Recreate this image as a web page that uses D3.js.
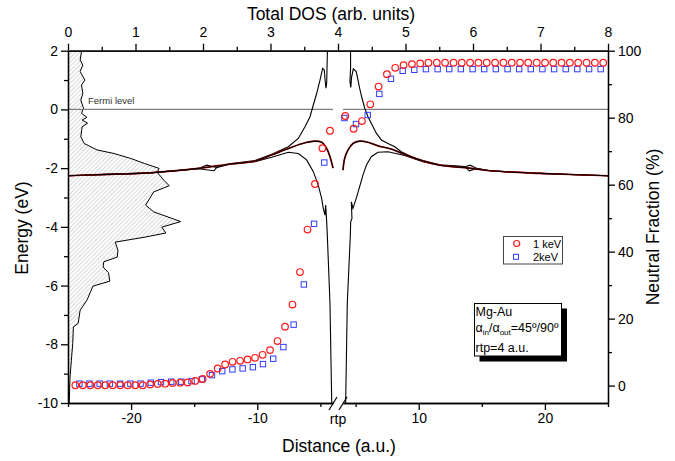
<!DOCTYPE html>
<html><head><meta charset="utf-8">
<script src="https://cdn.jsdelivr.net/npm/d3@7"></script>
<style>
body{margin:0;background:#fff}
svg{display:block}
text{font-family:"Liberation Sans",Arial,Helvetica,sans-serif}
</style>
</head><body>
<svg id="chart" width="675" height="461"></svg>
<script>
// ---------- DATA ----------
// Total DOS (top axis) vs energy (left axis)
const dosEnergy = [2.0,1.97,1.68,1.51,1.29,1.00,0.83,0.55,0.32,0.04,-0.13,-0.27,-0.36,-0.47,-0.59,-0.93,-1.16,-1.38,-1.50,-1.67,-1.84,-2.01,-2.14,-2.41,-2.60,-2.81,-3.26,-3.49,-3.82,-4.01,-4.21,-4.35,-4.52,-4.79,-5.03,-5.19,-5.37,-5.56,-5.85,-6.02,-6.50,-6.84,-7.29,-7.41,-7.97,-8.54,-9.11,-9.91,-10];
const dosValue  = [0.20,0.20,0.18,0.22,0.18,0.25,0.20,0.22,0.19,0.23,0.20,0.28,0.21,0.29,0.21,0.19,0.24,0.43,0.68,0.93,1.13,1.35,1.32,1.42,1.50,1.27,1.15,1.27,1.67,1.39,1.45,1.14,0.70,0.74,0.73,0.53,0.52,0.60,0.62,0.37,0.28,0.18,0.15,0.08,0.07,0.05,0.03,0.02,0.02];

// Energy-level curves: [distance (a.u.), energy (eV)]
const upperLeft = [[-25,-2.26],[-22.5,-2.22],[-18.5,-2.16],[-14.67,-2.02],[-14.01,-1.90],[-13.22,-1.98],[-12.16,-1.85],[-10.18,-1.74],[-8.86,-1.53],[-7.54,-1.27],[-6.75,-0.99],[-6.22,-0.59],[-5.82,-0.25],[-5.56,0.15],[-5.29,0.55],[-5.03,1.00],[-4.82,1.40],[-4.69,1.34],[-4.64,1.06],[-4.56,0.72],[-4.50,0.89],[-4.46,1.68],[-4.44,2.0]];
const lowerLeft = [[-25,-2.26],[-22.5,-2.22],[-18.5,-2.16],[-14.67,-2.02],[-13.43,-2.09],[-13.22,-1.98],[-12.16,-1.87],[-10.18,-1.78],[-8.86,-1.63],[-7.54,-1.46],[-6.75,-1.50],[-6.09,-1.72],[-5.56,-2.12],[-5.17,-2.58],[-4.90,-3.03],[-4.77,-3.37],[-4.64,-3.60],[-4.58,-3.26],[-4.50,-3.83],[-4.45,-4.29],[-4.24,-6.6],[-4.10,-10]];
const midLeft   = [[-25,-2.26],[-22.5,-2.22],[-18.5,-2.16],[-14.5,-2.0],[-12.16,-1.86],[-10.18,-1.76],[-8.86,-1.55],[-7.54,-1.33],[-6.22,-1.135],[-5.43,-1.08],[-4.90,-1.12],[-4.50,-1.33],[-4.24,-1.61],[-4.06,-1.89],[-4.0,-2.0]];
const upperRight = [[4.6,2.0],[4.6,1.4],[4.55,0.95],[4.62,0.75],[4.68,1.1],[4.82,1.38],[5.05,1.29],[5.19,1.00],[5.32,0.72],[5.51,0.38],[5.72,0.04],[5.98,-0.25],[6.24,-0.47],[6.64,-0.81],[7.04,-1.04],[7.57,-1.16],[8.10,-1.27],[8.62,-1.44],[9.42,-1.61],[10.34,-1.74],[11.69,-1.89],[13.67,-1.95],[14.07,-1.90],[14.6,-2.01],[15.65,-2.09],[19.61,-2.18],[25,-2.26]];
const lowerRight = [[4.21,-10],[4.34,-6.6],[4.58,-4.3],[4.61,-3.83],[4.71,-3.71],[4.66,-3.15],[4.79,-3.37],[5.05,-3.03],[5.32,-2.63],[5.58,-2.24],[5.85,-1.90],[6.24,-1.61],[6.77,-1.46],[7.57,-1.44],[8.88,-1.57],[10.34,-1.78],[11.69,-1.91],[13.67,-1.95],[14.01,-2.09],[14.6,-2.01],[15.65,-2.09],[19.61,-2.18],[25,-2.26]];
const midRight  = [[4.0,-2.07],[4.13,-1.67],[4.4,-1.38],[4.79,-1.16],[5.32,-1.08],[5.98,-1.12],[6.77,-1.24],[7.82,-1.35],[8.88,-1.53],[10.34,-1.76],[11.69,-1.90],[14.0,-2.0],[15.65,-2.09],[19.61,-2.18],[25,-2.26]];

// Neutral fraction (%) vs distance
const keV1Dist = [-24.42,-23.83,-23.23,-22.64,-22.05,-21.45,-20.86,-20.27,-19.67,-19.08,-18.49,-17.89,-17.30,-16.71,-16.11,-15.52,-14.92,-14.33,-13.74,-13.14,-12.55,-11.96,-11.36,-10.77,-10.18,-9.58,-8.99,-8.40,-7.80,-7.21,-6.62,-6.02,-5.43,-4.84,-4.24,
  4.18,4.84,5.50,6.16,6.82,7.48,8.14,8.80,9.46,10.12,10.77,11.43,12.09,12.76,13.41,14.07,14.73,15.39,16.05,16.71,17.37,18.03,18.68,19.35,20.01,20.66,21.32,21.98,22.64,23.30,23.96,24.62];
const keV1Frac = [0.1,0.1,0.1,0.1,0.1,0.1,0.1,0.1,0.1,0.1,0.36,0.5,0.57,0.8,0.86,0.95,1.4,2.0,3.5,5.1,6.3,7.1,7.4,7.8,8.3,9.2,10.6,13.3,17.6,24.2,33.9,46.6,60.2,70.9,76.1,
  80.5,76.7,79.0,84.0,89.3,93.0,94.9,95.7,96.0,96.2,96.4,96.4,96.4,96.4,96.4,96.4,96.4,96.4,96.4,96.4,96.4,96.4,96.4,96.4,96.4,96.4,96.4,96.4,96.4,96.4,96.4,96.4];
const keV2Dist = [-24.10,-23.30,-22.49,-21.68,-20.87,-20.06,-19.25,-18.44,-17.63,-16.82,-16.02,-15.21,-14.40,-13.59,-12.78,-11.97,-11.16,-10.35,-9.55,-8.74,-7.93,-7.12,-6.31,-5.50,-4.69,
  4.11,5.03,5.96,6.88,7.80,8.73,9.65,10.57,11.50,12.42,13.34,14.27,15.19,16.11,17.04,17.96,18.88,19.80,20.73,21.65,22.57,23.50,24.42];
const keV2Frac = [0.57,0.57,0.57,0.57,0.57,0.57,0.57,0.86,1.04,1.16,1.16,1.34,1.85,3.13,4.32,4.83,5.13,5.51,6.41,8.02,11.5,18.2,30.2,48.3,66.6,
  79.9,78.1,80.8,87.1,91.6,94.0,94.3,94.5,94.5,94.5,94.5,94.5,94.5,94.5,94.5,94.5,94.5,94.5,94.5,94.5,94.5,94.5,94.5];

// Ticks / labels
const energyTicks = [-10,-8,-6,-4,-2,0,2];
const energyMinor = [-9,-7,-5,-3,-1,1];
const dosTicks = [0,1,2,3,4,5,6,7,8];
const dosMinor = [0.5,1.5,2.5,3.5,4.5,5.5,6.5,7.5];
const fracTicks = [0,20,40,60,80,100];
const fracMinor = [10,30,50,70,90];
const distTicksLeft = [-20,-10], distMinorLeft = [-25,-15,-5];
const distTicksRight = [10,20], distMinorRight = [5,15,25];
const legendLabels = ["1 keV","2keV"];

// ---------- LAYOUT ----------
const L = 68, R = 608, T = 50.7, B = 403;
const svg = d3.select("#chart");
const FONT = '"Liberation Sans",Arial,Helvetica,sans-serif';

const yE = d3.scaleLinear().domain([-10,2]).range([B,T]);
const yP = d3.scaleLinear().domain([-5.2,100]).range([B,T]);
const xDOS = d3.scaleLinear().domain([0,8]).range([L,R]);
const xL = d3.scaleLinear().domain([-25,-4]).range([L,333]);
const xR = d3.scaleLinear().domain([4,25]).range([343,R]);
const xD = d => d < 0 ? xL(d) : xR(d);

// hatch pattern
const defs = svg.append("defs");
const pat = defs.append("pattern").attr("id","hatch").attr("patternUnits","userSpaceOnUse")
  .attr("width",3).attr("height",3).attr("patternTransform","rotate(45)");
pat.append("line").attr("x1",0).attr("y1",0).attr("x2",0).attr("y2",3)
  .attr("stroke","#9a9a9a").attr("stroke-width",0.8);

// DOS area
const dosData = dosEnergy.map((e,i)=>[e,dosValue[i]]);
svg.append("path").datum(dosData)
  .attr("d", d3.area().y(d=>yE(d[0])).x0(xDOS(0)).x1(d=>xDOS(d[1])))
  .attr("fill","url(#hatch)");
svg.append("path").datum(dosData)
  .attr("d", d3.line().y(d=>yE(d[0])).x(d=>xDOS(d[1])))
  .attr("fill","none").attr("stroke","#000").attr("stroke-width",1);

// Fermi level
[[L,333],[343,R]].forEach(s=>{
  svg.append("line").attr("x1",s[0]).attr("x2",s[1]).attr("y1",yE(0)).attr("y2",yE(0))
    .attr("stroke","#7f7f7f").attr("stroke-width",1.2);
});
svg.append("text").attr("x",88).attr("y",yE(0)-5).attr("font-size",9.5).attr("fill","#333").text("Fermi level");

// curves
const line = d3.line().x(d=>xD(d[0])).y(d=>yE(d[1]));
const smooth = d3.line().x(d=>xD(d[0])).y(d=>yE(d[1])).curve(d3.curveCatmullRom.alpha(0.5));
[upperLeft, lowerLeft, upperRight, lowerRight].forEach(c=>{
  svg.append("path").datum(c).attr("d",line).attr("fill","none").attr("stroke","#000").attr("stroke-width",1.1);
});
[midLeft, midRight].forEach(c=>{
  svg.append("path").datum(c).attr("d",smooth).attr("fill","none").attr("stroke","#c00000").attr("stroke-width",1.7);
  svg.append("path").datum(c).attr("d",smooth).attr("fill","none").attr("stroke","#000").attr("stroke-width",1.1);
});

// scatter
const s1 = keV1Dist.map((d,i)=>[d,keV1Frac[i]]);
const s2 = keV2Dist.map((d,i)=>[d,keV2Frac[i]]);
svg.append("g").selectAll("rect").data(s2).join("rect")
  .attr("x",d=>xD(d[0])-2.7).attr("y",d=>yP(d[1])-2.7).attr("width",5.4).attr("height",5.4)
  .attr("fill","none").attr("stroke","#2f3cff").attr("stroke-width",1);
svg.append("g").selectAll("circle").data(s1).join("circle")
  .attr("cx",d=>xD(d[0])).attr("cy",d=>yP(d[1])).attr("r",3.3)
  .attr("fill","none").attr("stroke","#ff1a1a").attr("stroke-width",1.2);

// ---------- AXES ----------
function style(g, size){
  g.attr("font-family",FONT);
  g.selectAll("path,line").attr("stroke","#000").attr("stroke-width",1.3);
  g.selectAll("text").attr("font-size",size||14).attr("fill","#000");
}
const none = ()=>"";
const plain = d => String(d);
// left
style(svg.append("g").attr("transform",`translate(${L},0)`).call(d3.axisLeft(yE).tickValues(energyMinor).tickSize(4).tickFormat(none).tickSizeOuter(0)));
style(svg.append("g").attr("transform",`translate(${L},0)`).call(d3.axisLeft(yE).tickValues(energyTicks).tickFormat(plain).tickSize(7).tickPadding(3).tickSizeOuter(0)));
// right
style(svg.append("g").attr("transform",`translate(${R},0)`).call(d3.axisRight(yP).tickValues(fracMinor).tickSize(4).tickFormat(none).tickSizeOuter(0)));
style(svg.append("g").attr("transform",`translate(${R},0)`).call(d3.axisRight(yP).tickValues(fracTicks).tickFormat(plain).tickSize(7).tickPadding(3).tickSizeOuter(0)));
// top
style(svg.append("g").attr("transform",`translate(0,${T})`).call(d3.axisTop(xDOS).tickValues(dosMinor).tickSize(4).tickFormat(none).tickSizeOuter(0)));
style(svg.append("g").attr("transform",`translate(0,${T})`).call(d3.axisTop(xDOS).tickValues(dosTicks).tickFormat(plain).tickSize(7).tickPadding(7).tickSizeOuter(0)));
// bottom (broken)
style(svg.append("g").attr("transform",`translate(0,${B})`).call(d3.axisBottom(xL).tickValues(distMinorLeft).tickSize(4).tickFormat(none).tickSizeOuter(0)));
style(svg.append("g").attr("transform",`translate(0,${B})`).call(d3.axisBottom(xL).tickValues(distTicksLeft).tickFormat(plain).tickSize(7).tickPadding(3).tickSizeOuter(0)));
style(svg.append("g").attr("transform",`translate(0,${B})`).call(d3.axisBottom(xR).tickValues(distMinorRight).tickSize(4).tickFormat(none).tickSizeOuter(0)));
style(svg.append("g").attr("transform",`translate(0,${B})`).call(d3.axisBottom(xR).tickValues(distTicksRight).tickFormat(plain).tickSize(7).tickPadding(3).tickSizeOuter(0)));
// break marks
[xL(-4), xR(4)].forEach(cx=>{
  svg.append("line").attr("x1",cx-4).attr("y1",B+7).attr("x2",cx+4).attr("y2",B-6)
    .attr("stroke","#000").attr("stroke-width",1.2);
});
svg.append("text").attr("x",(xL(-4)+xR(4))/2).attr("y",B+21).attr("text-anchor","middle")
  .attr("font-size",14).text("rtp");

// titles
svg.append("text").attr("x",331).attr("y",19.5).attr("text-anchor","middle").attr("font-size",17.5).text("Total DOS (arb. units)");
svg.append("text").attr("x",339).attr("y",452).attr("text-anchor","middle").attr("font-size",17.5).text("Distance (a.u.)");
svg.append("text").attr("transform","translate(28,228) rotate(-90)").attr("text-anchor","middle").attr("font-size",17.5).text("Energy (eV)");
svg.append("text").attr("transform","translate(659,227) rotate(-90)").attr("text-anchor","middle").attr("font-size",17.5).text("Neutral Fraction (%)");

// legend
const lg = svg.append("g");
lg.append("rect").attr("x",503.5).attr("y",236.5).attr("width",59).attr("height",27.5)
  .attr("fill","#fff").attr("stroke","#444").attr("stroke-width",1);
lg.append("circle").attr("cx",516.7).attr("cy",243.5).attr("r",3).attr("fill","none").attr("stroke","#ff1a1a").attr("stroke-width",1.2);
lg.append("rect").attr("x",513.5).attr("y",254.3).attr("width",5).attr("height",5).attr("fill","none").attr("stroke","#2f3cff").attr("stroke-width",1);
lg.append("text").attr("x",533).attr("y",247.5).attr("font-size",11).text(legendLabels[0]);
lg.append("text").attr("x",533).attr("y",261).attr("font-size",11).text(legendLabels[1]);

// annotation box with shadow
const ab = svg.append("g");
ab.append("rect").attr("x",479.5).attr("y",308.5).attr("width",87.5).attr("height",53).attr("fill","#000");
ab.append("rect").attr("x",474.5).attr("y",303.5).attr("width",87).attr("height",52.5).attr("fill","#fff").attr("stroke","#000").attr("stroke-width",1);
ab.append("text").attr("x",475.5).attr("y",316).attr("font-size",12.5).text("Mg-Au");
const t2 = ab.append("text").attr("x",475.5).attr("y",332).attr("font-size",12.5);
t2.append("tspan").text("α");
t2.append("tspan").attr("font-size",8).attr("dy",3).text("in");
t2.append("tspan").attr("dy",-3).text("/α");
t2.append("tspan").attr("font-size",8).attr("dy",3).text("out");
t2.append("tspan").attr("dy",-3).text("=45º/90º");
ab.append("text").attr("x",475.5).attr("y",351.5).attr("font-size",12.5).text("rtp=4 a.u.");
</script>
</body></html>
